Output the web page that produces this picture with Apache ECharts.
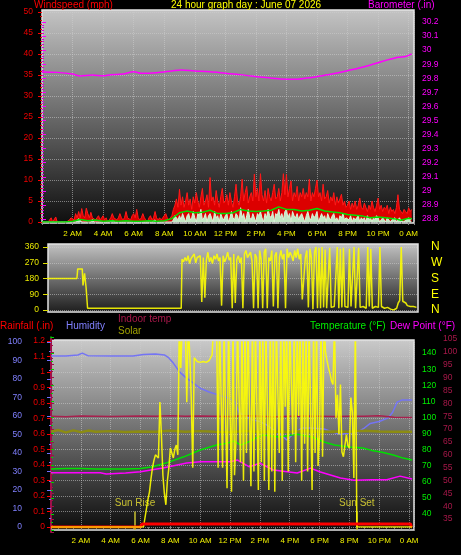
<!DOCTYPE html>
<html><head><meta charset="utf-8">
<script src="https://cdn.jsdelivr.net/npm/echarts@6/dist/echarts.min.js"></script>
<style>html,body{margin:0;padding:0;background:#000;}#c{width:461px;height:555px;}</style>
</head><body><div id="c"></div>
<script>
// ---------- tick labels ----------
const hourLabels = ['0 AM','2 AM','4 AM','6 AM','8 AM','10 AM','12 PM','2 PM','4 PM','6 PM','8 PM','10 PM','0 AM'];
const compassLabels = ['N','E','S','W','N'];

// ---------- top panel: wind (mph), sampled every 0.1 h from 0:00 ----------
const windStep = 0.1;
const windGust = [
 0,0,0,0,0,0,1,0,0,1.2,0,0,0,0,0,0,0,0,0.5,
 1,1,0.5,2,1,2.5,1,3.2,1.5,1,3.3,2,1,2.3,1,1,0.5,1,1.5,0.5,1,1.5,0.5,1,0,0.5,1,2,1,1,0.5,
 1,2,1,0.5,1,2.5,1,1,0.5,1.5,2,1,3,1,0.5,1,2,1,0.5,0,1,1.5,0.5,1,2.5,1,0.5,1,0.5,1,1.5,2,1,0.5,1,
 1.5,3,4,5.5,3.5,
 7.8,4,6,3.5,5,7,4,5.5,3,6,
 4.5,7,5,3.5,6,8,4,5,6.5,3.5,
 10.6,5,6,4,7.5,5,3.5,6,8,4.5,
 5,6.5,4,7,5,3.5,6,9,5,4,
 6,10.2,5,7,8.5,4.5,6,7,5,11.4,
 6,8,5,11.5,6.5,5,7.5,4.5,8,6,
 5,7,9,5.5,6,8,5,7,11.5,6.5,
 11.3,6,8,9.8,5,7,6,8.5,5,7,
 6,8,5.5,7,6,10.2,5,7,6,8,
 10,6,7,5,9,5.5,6,7.5,4.5,6,
 5,7,4,6,4.5,5.5,6.6,4,5,3.5,
 4,5,3,4.5,3.5,5,3,4,5.7,3.5,
 3,4.5,3.5,2.5,4,3,5,3.5,2.5,4,
 5.7,3,4,2.5,3.5,3,4,2,3.5,2.5,
 3,2,3.5,6.5,3,2.5,2,3,2.5,2,
 3.4,2.5,3
];
const windSpeed = [
 0,0,0,0,0,0,0,0,0,0,0,0,0,0,0,0,0,0,0,0,0,0,0,0,0.8,0.5,0,0,0,0,0,0,0,0.6,0,0,0,0,0,0,0,0,0,0,0,0,0.4,0,0,0,
 0,0,0,0,0,0,0,0,0,0,0,0,0,0,0,0,0,0,0,0,0,0,0,0,0.5,0,0,0,0,0,0,0,0,0,0,
 0,0.5,1.5,1,0.5,
 1.5,0.5,2,1,0,1.5,2,0.5,1,2.5,
 1,0,2,1.5,3,0.5,1,2,0,1.5,
 2,1,0,2.5,1,1.5,0,2,1,0.5,
 1.5,2,0,1,2.5,1,0.5,2,1.5,0,
 3.4,1,2,0,1.5,3,1,0.5,2,1,
 0,2,1.5,2.5,1,0,2,1,3,1.5,
 1,2.5,0,2,1.5,3,1,2,0.5,2.5,
 3,1,2,0,2.5,1.5,1,2,0.5,1.5,
 2,1,0,1.5,2.5,1,0.5,2,1,1.5,
 2.5,0,1,2,1,1.5,0,2,1,0.5,
 1.5,2,0.5,1,0,1.5,1,2,0.5,1,
 1,0.5,1.5,0,1,0.5,1,1.5,0,1,
 0.5,1,0,1.5,0.5,1,0,1,0.5,1.5,
 1,0,0.5,1,0.5,0,1,0.5,0,0.5,
 0.5,1,0,0.5,1,0.3,0.5,0,0.5,0.3,
 1,0.5,0.8
];
const windAvg = [[0,0],[0.5,0],[1,0],[1.5,0],[2,0.2],[2.5,0.6],[3,0.3],[3.5,0.5],[4,0.2],[4.5,0.3],[5,0.2],[5.5,0.3],[6,0.2],[6.5,0.2],[7,0.3],[7.5,0.2],[8,0.3],[8.5,0.8],[9,2.2],[9.5,2.6],[10,2.2],[10.5,2.3],[11,2.8],[11.5,2],[12,2],[12.5,2.2],[13,3],[13.5,2.6],[14,2.5],[14.5,2.6],[15,2.8],[15.5,3.6],[16,3],[16.5,3],[17,2.6],[17.5,2.8],[18,3.2],[18.5,2.6],[19,2.4],[19.5,2.2],[20,1.8],[20.5,1.6],[21,1.4],[21.5,1],[22,1.2],[22.5,1],[23,0.8],[23.5,0.4],[24,0.9],[24.2,0.8]];
const barometer = [[0,29.845],[1,29.842],[2,29.83],[2.5,29.816],[3.3,29.823],[4,29.818],[4.5,29.825],[5.3,29.83],[6,29.847],[6.5,29.835],[7.5,29.84],[8.5,29.852],[9.1,29.859],[10,29.852],[11,29.846],[12,29.836],[13,29.826],[13.7,29.816],[14.5,29.807],[15.6,29.795],[16.5,29.793],[17.2,29.8],[18.2,29.816],[19,29.83],[20,29.854],[21.1,29.882],[22.2,29.918],[23.3,29.949],[23.8,29.955],[24.2,29.973]];

// ---------- wind direction (deg) ----------
const windDirNight = [[0,180],[1.9,180],[1.95,235],[2.25,235],[2.3,140],[2.4,210],[2.5,130],[2.6,10],[8.75,10]];
const windDirDayStart = 8.8;
const windDirDay = [
 290,275,300,280,310,265,295,285,320,270,300,290,
 310,46,300,70,285,330,275,300,265,310,
 290,320,280,300,25,310,275,295,330,285,
 300,10,320,40,290,310,270,300,10,320,
 340,300,290,330,280,10,320,300,10,340,
 290,10,330,350,10,300,280,340,20,310,
 330,10,300,340,290,320,10,350,300,330,
 310,280,340,300,350,290,320,60,70,300,
 340,15,350,300,5,330,360,10,355,10,
 360,15,345,10,20,355,15,10,20,15,
 360,10,350,15,355,20,10,15,350,20,
 15,360,10,20,355,15,10,20,15,10,
 360,20,350,10,15,20,10,15,360,20,
 15,10,20,15,10,5,5,0,5,10,
 40,55,360,50,45,40,25,20,20,18,
 20,15,15
];

// ---------- bottom panel ----------
const humidity = [[0,92.4],[1,92.4],[1.8,93],[2.1,94],[2.5,92.5],[4,92.4],[5.5,92.4],[6.2,93.2],[7,93.5],[7.6,93],[7.9,91.4],[8.2,88.6],[8.6,84],[9,81],[9.5,78],[10,75],[10.6,73],[11.2,71.4],[11.8,70],[12.3,68],[12.6,62],[13,60],[13.5,58],[14,57],[14.5,55],[15,52],[15.4,50],[15.8,47],[16.2,50],[16.8,53.5],[17.5,53.5],[18.3,53],[19,51],[19.4,50],[20,51],[20.5,51],[21,53.5],[21.4,56],[22,57],[22.6,59],[22.9,62],[23.2,67.5],[23.5,68.6],[24.2,68.6]];
const indoorTemp = [[0,75],[1,74.8],[2,75.1],[3,75],[4,74.9],[5,75],[6,75.1],[7,75],[8,75.2],[9,75],[10,75.1],[11,75],[12,74.9],[13,75.2],[14,75],[15,74.8],[16,75],[17,75.1],[18,75],[19,74.9],[20,75],[21,75],[22,75.2],[23,74.6],[24.2,74.5]];
const oliveLine = [[0,69],[0.5,69.6],[1,68.7],[1.5,69.5],[2,68.8],[2.5,69.4],[3,69],[4,69.2],[5,68.9],[6,69.1],[7,69],[8,69.3],[9,69],[10,69.2],[11,69],[12,68.9],[13,69.2],[14,69],[15,69.1],[16,69],[17,69.2],[18,69],[19,69.1],[20,69],[21,69.3],[22,69.1],[23,69],[24.2,69]];
const temperature = [[0,68],[1,68.2],[2,68.3],[3,68],[4,67.9],[5,68],[6,68.3],[6.8,69.3],[7.7,71.6],[8.9,75.5],[10,79.7],[11.1,82.8],[11.8,84],[12.3,85.3],[12.7,82.8],[13.3,85],[13.7,87],[14.2,89],[15.3,87.8],[16.5,89.6],[17.5,87.8],[18.3,84.7],[19,82.8],[20,81.6],[20.9,81],[21.5,79.5],[22.2,78.4],[23,76.5],[23.6,74.7],[24.2,73.5]];
const dewPoint = [[0,65.6],[1.5,65.6],[3.3,65.6],[3.7,64.8],[5,65.5],[6,66.2],[7.5,68.5],[9.1,71.6],[10,72.4],[11,72.4],[12,72.4],[12.5,73.5],[13.3,69.3],[14,71.6],[14.9,67.3],[16.5,65.4],[17.4,68.5],[18,66.2],[19.4,62.3],[20.3,61],[21.5,61.2],[22.5,61.2],[23.4,63.5],[24.2,61.7]];
const rainfall = [[0,0],[6.0,0],[6.1,0.02],[24.1,0.02],[24.15,0],[24.2,0]];
const solarStart = 6.0;
const solar = [
 0,0,0,50,100,150,190,260,320,360,
 390,380,373,675,500,280,180,120,250,320,
 427,400,373,420,443,390,1100,860,1100,1100,
 1100,675,1100,930,700,320,915,905,895,890,
 890,890,895,895,890,895,900,910,930,1100,
 1100,1100,320,1100,1100,320,1100,600,210,1100,
 1100,190,1100,280,470,1100,1100,350,1100,250,
 1100,400,1100,1100,220,1100,300,1100,1100,200,
 1100,350,1100,250,1100,1100,200,1100,300,1100,
 190,1100,1100,400,1100,250,1100,650,1100,300,
 1100,1100,500,1100,350,1100,600,1100,250,1100,
 450,1100,300,1100,1100,200,1100,400,1100,330,
 500,1100,380,1100,945,900,860,830,790,770,
 1100,590,715,500,770,405,380,373,500,440,
 427,700,620,265,1100,0
];
const solarNight = [[0,0],[24.2,0]];
const sunRise = 5.63, sunSet = 20.5;

// ---------- build ----------
const seq = (start, step, arr) => arr.map((v, i) => [+(start + i * step).toFixed(3), v]);
const gustData = seq(0, windStep, windGust);
const speedData = seq(0, windStep, windSpeed);
const dirData = windDirNight.concat(seq(windDirDayStart, 0.1, windDirDay));
const solarData = [solarNight[0]].concat(seq(solarStart, 0.1, solar)).concat([solarNight[1]]);

const FONT = '"Liberation Sans", Arial, sans-serif';
const grad = (a, b) => new echarts.graphic.LinearGradient(0, 0, 0, 1, [{offset: 0, color: a}, {offset: 1, color: b}]);
const dotted = {show: true, lineStyle: {color: 'rgba(205,205,205,0.55)', type: 'dotted', width: 1}};
const hourFmt = v => (Math.abs(v / 2 - Math.round(v / 2)) < 1e-6 ? hourLabels[Math.round(v / 2)] || '' : '');

function hidX(g, max) { return {type: 'value', gridIndex: g, min: 0, max: max, show: false}; }
function hidY(g) { return {type: 'value', gridIndex: g, min: 0, max: 1, show: false}; }

const TOPMAX = 24.35, DIRMAX = 24.3, BOTMAX = 24.33;
const titleStyle = c => ({color: c, fontSize: 10, fontWeight: 'normal', fontFamily: FONT});

const option = {
  animation: false,
  backgroundColor: '#000',
  textStyle: {fontFamily: FONT},
  title: [
    {text: 'Windspeed (mph)', left: 34, top: 0, padding: 0, textStyle: titleStyle('#ff0000')},
    {text: '24 hour graph day : June 07 2026', left: 171, top: 0, padding: 0, textStyle: titleStyle('#ffff00')},
    {text: 'Barometer (.in)', left: 368, top: 0, padding: 0, textStyle: titleStyle('#ff00ff')},
    {text: 'Rainfall (.in)', left: 0, top: 321, padding: 0, textStyle: titleStyle('#ff0000')},
    {text: 'Humidity', left: 66, top: 321, padding: 0, textStyle: titleStyle('#8080ff')},
    {text: 'Indoor temp', left: 118, top: 314, padding: 0, textStyle: titleStyle('#a8184a')},
    {text: 'Solar', left: 118, top: 326, padding: 0, textStyle: titleStyle('#a0a000')},
    {text: 'Temperature (°F)', left: 310, top: 321, padding: 0, textStyle: titleStyle('#00ee00')},
    {text: 'Dew Point (°F)', left: 390, top: 321, padding: 0, textStyle: titleStyle('#ff00ff')}
  ],
  grid: [
    {left: 42, top: 10, width: 372, height: 213, show: true, backgroundColor: grad('#c4c4c4', '#0e0e0e'), borderColor: '#e4e4e4', borderWidth: 1.5}, // 0 bg
    {left: 42, top: 12, width: 372, height: 210},  // 1 wind
    {left: 42, top: 22, width: 372, height: 197},  // 2 baro
    {left: 48, top: 244, width: 370, height: 68, show: true, backgroundColor: grad('#c4c4c4', '#1c1c1c'), borderColor: '#e4e4e4', borderWidth: 1.5}, // 3 bg
    {left: 48, top: 247, width: 370, height: 63},  // 4 dir
    {left: 51, top: 340, width: 363, height: 190, show: true, backgroundColor: grad('#cacaca', '#0c0c0c'), borderColor: '#e4e4e4', borderWidth: 1.5}, // 5 bg
    {left: 51, top: 342, width: 363, height: 185}, // 6 humidity + solar
    {left: 51, top: 341, width: 363, height: 186}, // 7 rain
    {left: 51, top: 337, width: 363, height: 193}, // 8 temperature
    {left: 51, top: 339, width: 363, height: 193}  // 9 indoor
  ],
  xAxis: [
    hidX(0, 1),
    {type: 'value', gridIndex: 1, min: 0, max: TOPMAX, interval: 2,
      axisLine: {show: false}, axisTick: {show: true, length: 3, lineStyle: {color: '#888'}},
      minorTick: {show: true, splitNumber: 4, length: 2, lineStyle: {color: '#777'}},
      axisLabel: {color: '#f0f000', fontSize: 8, margin: 8, showMinLabel: false, formatter: hourFmt},
      splitLine: dotted},
    hidX(2, TOPMAX),
    hidX(3, 1),
    {type: 'value', gridIndex: 4, min: 0, max: DIRMAX, interval: 2, axisLine: {show: false}, axisTick: {show: false}, axisLabel: {show: false}, splitLine: {show: false}},
    hidX(5, 1),
    {type: 'value', gridIndex: 6, min: 0, max: BOTMAX, interval: 2, offset: 3,
      axisLine: {show: false}, axisTick: {show: true, length: 3, lineStyle: {color: '#888'}},
      minorTick: {show: true, splitNumber: 4, length: 2, lineStyle: {color: '#777'}},
      axisLabel: {color: '#f0f000', fontSize: 8, margin: 7, showMinLabel: false, formatter: hourFmt},
      splitLine: dotted},
    hidX(7, BOTMAX), hidX(8, BOTMAX), hidX(9, BOTMAX)
  ],
  yAxis: [
    hidY(0),
    {type: 'value', gridIndex: 1, min: 0, max: 50, interval: 5, position: 'left',
      axisLine: {show: false}, axisTick: {show: true, length: 4, lineStyle: {color: '#ff0000'}},
      minorTick: {show: true, splitNumber: 5, length: 2, lineStyle: {color: '#dd0000'}},
      axisLabel: {color: '#ee0000', fontSize: 8.5, margin: 9}, splitLine: dotted},
    {type: 'value', gridIndex: 2, min: 28.8, max: 30.2, interval: 0.1, position: 'right',
      axisLine: {show: false}, axisTick: {show: true, length: 4, lineStyle: {color: '#ff00ff'}},
      minorTick: {show: true, splitNumber: 5, length: 2, lineStyle: {color: '#dd00dd'}},
      axisLabel: {color: '#ff00ff', fontSize: 8.5, margin: 8}, splitLine: {show: false}},
    hidY(3),
    {type: 'value', gridIndex: 4, min: 0, max: 360, interval: 90, position: 'left',
      axisLine: {show: false}, axisTick: {show: true, length: 5, lineStyle: {color: '#e0e000'}},
      axisLabel: {color: '#e8e800', fontSize: 8.5, margin: 9}, splitLine: dotted},
    {type: 'value', gridIndex: 4, min: 0, max: 360, interval: 90, position: 'right',
      axisLine: {show: false}, axisTick: {show: false}, splitLine: {show: false},
      axisLabel: {color: '#ffff00', fontSize: 12, margin: 13, formatter: v => compassLabels[Math.round(v / 90)] || ''}},
    hidY(5),
    {type: 'value', gridIndex: 6, min: 0, max: 100, interval: 10, position: 'left', offset: 21,
      axisLine: {show: true, lineStyle: {color: '#7070ff', width: 2}},
      axisTick: {show: true, length: 4, lineStyle: {color: '#7070ff'}},
      minorTick: {show: true, splitNumber: 2, length: 2, lineStyle: {color: '#7070ff'}},
      axisLabel: {color: '#8080ff', fontSize: 8.5, margin: 8}, splitLine: {show: false}},
    {type: 'value', gridIndex: 6, min: 0, max: 1000, show: false},
    {type: 'value', gridIndex: 7, min: 0, max: 1.2, interval: 0.1, position: 'left',
      axisLine: {show: true, lineStyle: {color: '#ff3030', width: 1.5, type: 'dotted'}},
      axisTick: {show: true, length: 4, lineStyle: {color: '#ff0000'}},
      axisLabel: {color: '#ee0000', fontSize: 8.5, margin: 6}, splitLine: dotted},
    {type: 'value', gridIndex: 8, min: 30, max: 150, interval: 10, position: 'right', offset: 3,
      axisLine: {show: true, lineStyle: {color: '#00d000', width: 1.5, type: 'dotted'}},
      axisTick: {show: true, length: 3, lineStyle: {color: '#00d000'}},
      minorTick: {show: true, splitNumber: 2, length: 2, lineStyle: {color: '#00d000'}},
      axisLabel: {color: '#00ee00', fontSize: 8.5, margin: 5, showMaxLabel: false, showMinLabel: false}, splitLine: {show: false}},
    {type: 'value', gridIndex: 9, min: 30, max: 105, interval: 5, position: 'right', offset: 24,
      axisLine: {show: true, lineStyle: {color: '#a0104a', width: 2}},
      axisTick: {show: true, length: 3, lineStyle: {color: '#a0104a'}},
      minorTick: {show: true, splitNumber: 2, length: 2, lineStyle: {color: '#a0104a'}},
      axisLabel: {color: '#a8184a', fontSize: 8.5, margin: 5, showMinLabel: false}, splitLine: {show: false}}
  ],
  visualMap: [{type: 'piecewise', show: false, seriesIndex: 11, dimension: 1,
    pieces: [{min: -1, max: 0.005, color: '#ff9900'}, {min: 0.005, max: 2, color: '#ff0000'}]}],
  series: [
    {name: 'Wind gust', type: 'line', xAxisIndex: 1, yAxisIndex: 1, data: gustData, showSymbol: false,
      lineStyle: {color: '#ff1a1a', width: 1}, areaStyle: {color: '#dc0000', opacity: 1}, z: 2},
    {name: 'Wind speed', type: 'line', xAxisIndex: 1, yAxisIndex: 1, data: speedData, showSymbol: false,
      lineStyle: {color: '#d8f4d8', width: 1}, areaStyle: {color: '#c4e8c4', opacity: 1}, z: 3},
    {name: 'Average wind', type: 'line', xAxisIndex: 1, yAxisIndex: 1, data: windAvg, showSymbol: false,
      lineStyle: {color: '#00e000', width: 1.5}, z: 4},
    {name: 'Barometer', type: 'line', xAxisIndex: 2, yAxisIndex: 2, data: barometer, showSymbol: false, smooth: 0.3,
      lineStyle: {color: '#ff00ff', width: 1.5}, z: 4},
    {name: 'Wind direction', type: 'line', xAxisIndex: 4, yAxisIndex: 4, data: dirData, showSymbol: false,
      lineStyle: {color: 'rgba(255,255,0,0.88)', width: 1.5}, z: 3},
    {name: 'Humidity', type: 'line', xAxisIndex: 6, yAxisIndex: 7, data: humidity, showSymbol: false,
      lineStyle: {color: '#7474f4', width: 1.5}, z: 2},
    {name: 'Indoor temp', type: 'line', xAxisIndex: 9, yAxisIndex: 11, data: indoorTemp, showSymbol: false,
      lineStyle: {color: '#a8204e', width: 1.5}, z: 2},
    {name: 'Olive', type: 'line', xAxisIndex: 9, yAxisIndex: 11, data: oliveLine, showSymbol: false,
      lineStyle: {color: '#8c8c12', width: 2.5}, z: 2},
    {name: 'Temperature', type: 'line', xAxisIndex: 8, yAxisIndex: 10, data: temperature, showSymbol: false,
      lineStyle: {color: '#00e000', width: 1.5}, z: 3},
    {name: 'Dew Point', type: 'line', xAxisIndex: 8, yAxisIndex: 10, data: dewPoint, showSymbol: false,
      lineStyle: {color: '#ff00ff', width: 1.5}, z: 3,
      markLine: {silent: true, symbol: ['none', 'none'], animation: false,
        lineStyle: {color: '#c8c032', width: 1.5, type: 'solid'},
        label: {show: true, position: 'end', distance: 3, color: '#c8c032', fontSize: 10, fontFamily: FONT, formatter: p => p.name},
        data: [
          [{name: 'Sun Rise', coord: [sunRise, 30]}, {coord: [sunRise, 41.5]}],
          [{name: 'Sun Set', coord: [sunSet, 30]}, {coord: [sunSet, 41.5]}]
        ]}},
    {name: 'Solar', type: 'line', xAxisIndex: 6, yAxisIndex: 8, data: solarData, showSymbol: false,
      lineStyle: {color: 'rgba(255,255,0,0.9)', width: 1.5}, z: 5},
    {name: 'Rainfall', type: 'line', xAxisIndex: 7, yAxisIndex: 9, data: rainfall, showSymbol: false,
      lineStyle: {width: 3}, z: 6}
  ]
};
const chart = echarts.init(document.getElementById('c'), null, {renderer: 'canvas'});
chart.setOption(option);
</script></body></html>
